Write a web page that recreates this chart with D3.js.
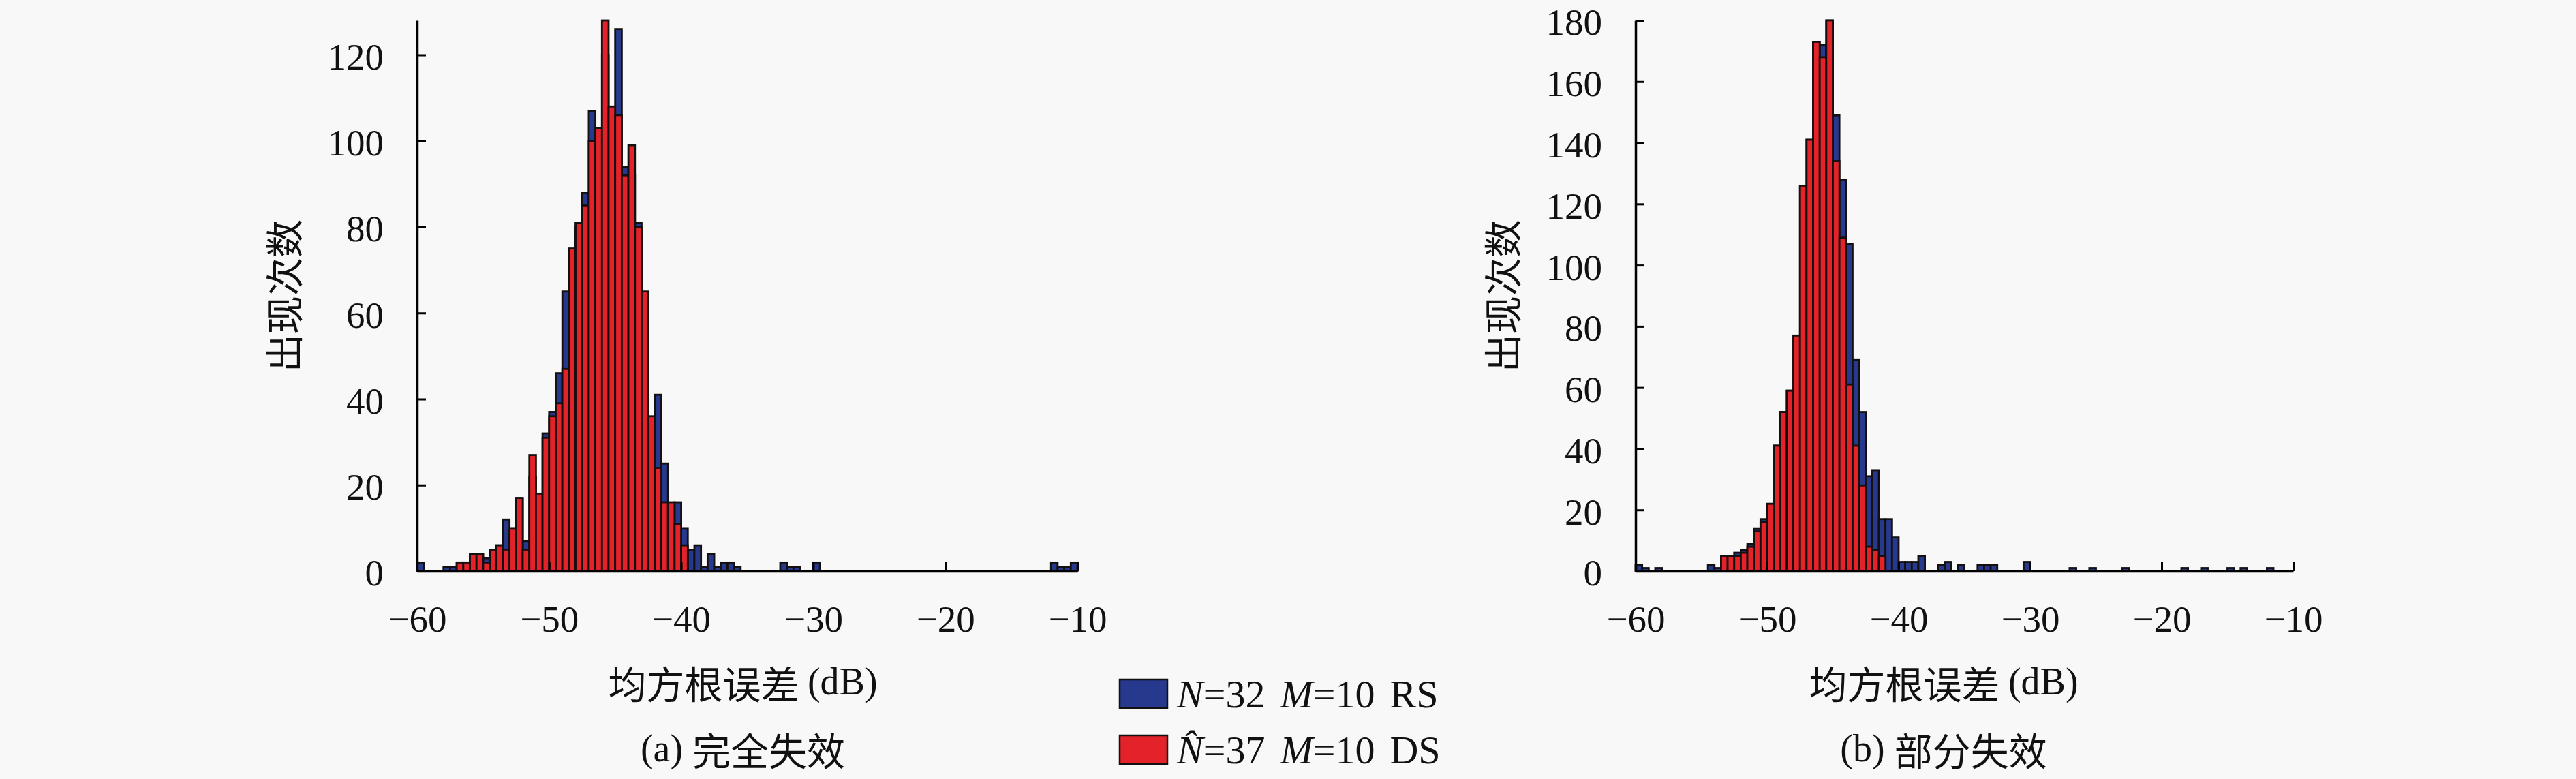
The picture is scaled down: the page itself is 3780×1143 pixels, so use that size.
<!DOCTYPE html>
<html><head><meta charset="utf-8">
<script src="https://cdn.jsdelivr.net/npm/d3@7"></script>
<style>html,body{margin:0;padding:0;background:#f8f8f8}svg{display:block}</style>
</head><body>
<script>
// ---------- data ----------
// 100 histogram bins of 0.5 dB from -60 dB to -10 dB
const binEdges = d3.range(101).map(i => -60 + 0.5 * i);
const xTicks = [-60, -50, -40, -30, -20, -10];
const yTicksA = [0, 20, 40, 60, 80, 100, 120];
const yTicksB = [0, 20, 40, 60, 80, 100, 120, 140, 160, 180];

// (a) 完全失效 — N=32 M=10 RS
const countsA_RS = [2,0,0,0,1,1,2,2,4,4, 3,5,6,12,9,17,7,22,17,32,
  37,46,65,74,80,88,107,101,120,107, 126,94,92,81,64,35,41,25,14,16,
  10,5,6,1,4,1,2,2,1,0, 0,0,0,0,0,2,1,1,0,0,
  2,0,0,0,0,0,0,0,0,0, 0,0,0,0,0,0,0,0,0,0,
  0,0,0,0,0,0,0,0,0,0, 0,0,0,0,0,0,2,1,1,2];
// (a) 完全失效 — N^=37 M=10 DS
const countsA_DS = [0,0,0,0,0,0,2,2,4,4, 2,5,6,5,10,17,5,27,18,31,
  36,39,47,75,81,85,100,103,128,108, 106,92,99,80,65,36,24,16,16,11,
  6,0,0,0,0,0,0,0,0,0, 0,0,0,0,0,0,0,0,0,0,
  0,0,0,0,0,0,0,0,0,0, 0,0,0,0,0,0,0,0,0,0,
  0,0,0,0,0,0,0,0,0,0, 0,0,0,0,0,0,0,0,0,0];
// (b) 部分失效 — N=32 M=10 RS
const countsB_RS = [2,1,0,1,0,0,0,0,0,0, 0,2,1,5,5,6,7,9,14,17,
  22,41,52,59,77,126,141,173,172,180, 149,128,107,69,52,31,33,17,17,11,
  3,3,3,5,0,0,2,3,0,2, 0,0,2,2,2,0,0,0,0,3,
  0,0,0,0,0,0,1,0,0,1, 0,0,0,0,1,0,0,0,0,0,
  0,0,0,1,0,0,1,0,0,0, 1,0,1,0,0,0,1,0,0,0];
// (b) 部分失效 — N^=37 M=10 DS
const countsB_DS = [0,0,0,0,0,0,0,0,0,0, 0,0,0,5,5,5,6,8,13,16,
  22,41,52,59,77,126,141,173,168,180, 134,109,61,41,28,8,7,5,0,0,
  0,0,0,0,0,0,0,0,0,0, 0,0,0,0,0,0,0,0,0,0,
  0,0,0,0,0,0,0,0,0,0, 0,0,0,0,0,0,0,0,0,0,
  0,0,0,0,0,0,0,0,0,0, 0,0,0,0,0,0,0,0,0,0];

// ---------- drawing ----------
const W = 3780, H = 1143;
const colRS = "#26398c", colDS = "#e4222a";
const serif = "'Liberation Serif','DejaVu Serif',serif";
const cjk = "'Noto Sans CJK SC','Noto Sans CJK JP',sans-serif";
const fmt = d => d < 0 ? "\u2212" + Math.abs(d) : String(d);

const svg = d3.select("body").append("svg").attr("width", W).attr("height", H)
  .style("background", "#f8f8f8");

const panels = [
  {x0: 612, x1: 1581, yMax: 128, yTicks: yTicksA, rs: countsA_RS, ds: countsA_DS,
   labelX: 1090, caption: "(a) 完全失效"},
  {x0: 2400, x1: 3365, yMax: 180, yTicks: yTicksB, rs: countsB_RS, ds: countsB_DS,
   labelX: 2852, caption: "(b) 部分失效"}
];
const yTop = 30, yBase = 838;

panels.forEach(p => {
  const x = d3.scaleLinear().domain([-60, -10]).range([p.x0, p.x1]);
  const y = d3.scaleLinear().domain([0, p.yMax]).range([yBase, yTop]);
  const g = svg.append("g");

  [[p.rs, colRS], [p.ds, colDS]].forEach(([counts, col]) => {
    const bins = counts.map((c, i) => ({lo: binEdges[i], hi: binEdges[i + 1], c}))
      .filter(b => b.c > 0);
    g.append("g").selectAll("rect").data(bins).join("rect")
      .attr("x", d => x(d.lo)).attr("width", d => x(d.hi) - x(d.lo))
      .attr("y", d => y(d.c)).attr("height", d => y(0) - y(d.c))
      .attr("fill", col).attr("stroke", "#151010").attr("stroke-width", 2.8);
  });

  const ax = g.append("g").attr("transform", `translate(0,${yBase})`)
    .call(d3.axisBottom(x).tickValues(xTicks).tickFormat(fmt)
      .tickSizeInner(-13).tickSizeOuter(0).tickPadding(50));
  const ay = g.append("g").attr("transform", `translate(${p.x0},0)`)
    .call(d3.axisLeft(y).tickValues(p.yTicks).tickFormat(fmt)
      .tickSizeInner(-13).tickSizeOuter(0).tickPadding(49));
  [ax, ay].forEach(a => {
    a.select(".domain").attr("stroke", "#000").attr("stroke-width", 3.5);
    a.selectAll(".tick line").attr("stroke", "#000").attr("stroke-width", 3);
    a.selectAll(".tick text").attr("font-family", serif).attr("font-size", 55)
      .attr("fill", "#111");
  });
  ax.selectAll(".tick text").attr("dy", null).attr("y", 70)
    .attr("dominant-baseline", "central");
  ay.selectAll(".tick text").attr("dy", "0.38em");

  g.append("text").attr("transform", `translate(${p.x0 - 199},${(yTop + yBase) / 2}) rotate(-90)`)
    .attr("text-anchor", "middle").attr("dominant-baseline", "central")
    .attr("font-family", cjk).attr("font-size", 56).attr("fill", "#111").text("出现次数");

  const xl = g.append("text").attr("x", p.labelX).attr("y", 1000)
    .attr("text-anchor", "middle").attr("dominant-baseline", "central")
    .attr("font-size", 56).attr("fill", "#111");
  xl.append("tspan").attr("font-family", cjk).text("均方根误差 ");
  xl.append("tspan").attr("font-family", serif).text("(dB)");

  const cp = g.append("text").attr("x", p.labelX).attr("y", 1098)
    .attr("text-anchor", "middle").attr("dominant-baseline", "central")
    .attr("font-size", 56).attr("fill", "#111");
  cp.append("tspan").attr("font-family", serif).text(p.caption.split(" ")[0] + " ");
  cp.append("tspan").attr("font-family", cjk).text(p.caption.split(" ")[1]);
});

// legend
const legend = svg.append("g");
const legItems = [
  {col: colRS, y: 1018, parts: [["N", true], ["=32", false], ["M", true, 22], ["=10", false], ["RS", false, 22]]},
  {col: colDS, y: 1100, parts: [["N\u0302", true], ["=37", false], ["M", true, 22], ["=10", false], ["DS", false, 22]]}
];
legItems.forEach(it => {
  legend.append("rect").attr("x", 1643).attr("y", it.y - 21).attr("width", 70).attr("height", 42)
    .attr("fill", it.col).attr("stroke", "#111").attr("stroke-width", 2.5);
  const t = legend.append("text").attr("x", 1727).attr("y", it.y)
    .attr("dominant-baseline", "central").attr("font-family", serif)
    .attr("font-size", 58).attr("fill", "#111");
  it.parts.forEach(([s, ital, dx]) => {
    const ts = t.append("tspan").text(s);
    if (ital) ts.attr("font-style", "italic");
    if (dx) ts.attr("dx", dx);
  });
});
</script>
</body></html>
